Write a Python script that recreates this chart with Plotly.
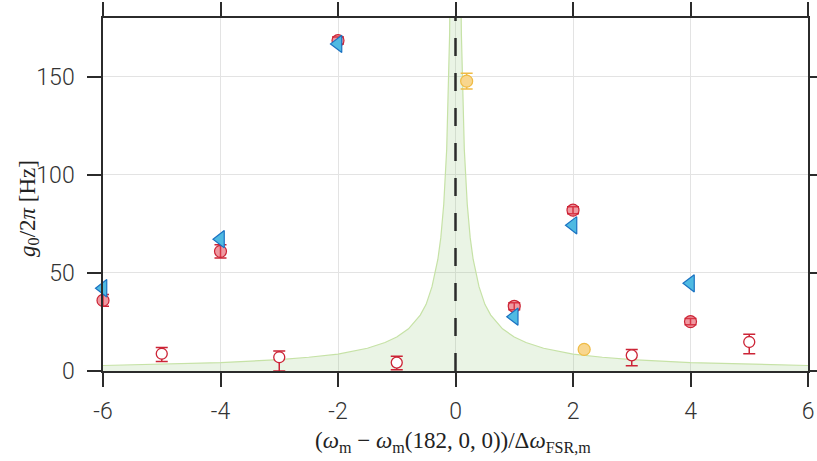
import plotly.graph_objects as go

# ---- data ----
# red filled circles (with error bars)
red_x = [-6, -4, -2, 1, 2, 4]
red_y = [36, 61, 168.5, 33, 82, 25.2]
red_err = [3, 3.4, 1.8, 1.8, 1.8, 1.6]

# red open circles (asymmetric error bars)
open_x = [-5, -3, -1, 3, 5]
open_y = [8.8, 7.0, 4.3, 8.0, 14.8]
open_err_up = [3.2, 3.2, 3.2, 3.0, 4.0]
open_err_dn = [4.0, 7.0, 3.6, 5.3, 6.0]

# blue left triangles
blue_x = [-6, -4, -2, 1, 2, 4]
blue_y = [42.2, 67.2, 166.8, 27.7, 74.3, 44.7]

# yellow circles
yel_x = [0.19, 2.19]
yel_y = [147.8, 11.0]
yel_err = [4.0, 0.0]

# green envelope curve (read values)
curve_x = [-6, -5, -4, -3, -2.5, -2, -1.5, -1.2, -1, -0.8, -0.6, -0.5, -0.4, -0.3,
           -0.25, -0.2, -0.15, -0.1, -0.07, 0,
           0.07, 0.1, 0.15, 0.2, 0.25, 0.3, 0.4, 0.5, 0.6, 0.8, 1, 1.2, 1.5, 2,
           2.5, 3, 4, 5, 6]
curve_y = [2.8, 3.4, 4.3, 5.8, 7.0, 8.6, 11.6, 14.5, 17.3, 21.5, 28.5, 34, 43, 57,
           68, 85, 113, 172, 245, 600,
           245, 172, 113, 85, 68, 57, 43, 34, 28.5, 21.5, 17.3, 14.5, 11.6, 8.6,
           7.0, 5.8, 4.3, 3.4, 2.8]

# dashed reference line position
ref_x = 0

x_range = [-6, 6]
y_range = [0, 180]
x_ticks = [-6, -4, -2, 0, 2, 4, 6]
y_ticks = [0, 50, 100, 150]

x_title = "(<i>ω</i><sub>m</sub> − <i>ω</i><sub>m</sub>(182, 0, 0))/Δ<i>ω</i><sub>FSR,m</sub>"
y_title = "<i>g</i><sub>0</sub>/2<i>π</i> [Hz]"

RED = "#cc2436"
BLUE_EDGE = "#1a72c2"
YEL_EDGE = "#efbb45"
AX = "#2b2b2b"

fig = go.Figure()

fig.add_trace(go.Scatter(
    x=curve_x, y=curve_y, mode="lines", fill="tozeroy",
    fillcolor="rgba(140,195,110,0.18)",
    line=dict(color="#c6e2a6", width=1.2),
    hoverinfo="skip", showlegend=False))

fig.add_trace(go.Scatter(
    x=[ref_x, ref_x], y=[y_range[0], y_range[1]], mode="lines",
    line=dict(color=AX, width=2.5, dash="18px,17px"),
    hoverinfo="skip", showlegend=False))

fig.add_trace(go.Scatter(
    x=open_x, y=open_y, mode="markers",
    marker=dict(symbol="circle", size=11, color="white",
                line=dict(color=RED, width=1.3)),
    error_y=dict(type="data", symmetric=False, array=open_err_up,
                 arrayminus=open_err_dn, color=RED, thickness=1.5, width=6),
    cliponaxis=False, showlegend=False))

fig.add_trace(go.Scatter(
    x=red_x, y=red_y, mode="markers",
    marker=dict(symbol="circle", size=12, color="rgba(226,70,84,0.55)",
                line=dict(color=RED, width=1.2)),
    error_y=dict(type="data", array=red_err, color=RED, thickness=1.5, width=6),
    cliponaxis=False, showlegend=False))

fig.add_trace(go.Scatter(
    x=blue_x, y=blue_y, mode="markers",
    marker=dict(symbol="triangle-left", size=15, color="#4fbae2",
                line=dict(color=BLUE_EDGE, width=1.2)),
    cliponaxis=False, showlegend=False))

fig.add_trace(go.Scatter(
    x=yel_x, y=yel_y, mode="markers",
    marker=dict(symbol="circle", size=12, color="#f8d68e",
                line=dict(color=YEL_EDGE, width=1.2)),
    error_y=dict(type="data", array=yel_err, color=YEL_EDGE, thickness=1.5, width=6),
    cliponaxis=False, showlegend=False))

axis_common = dict(
    showline=True, linecolor=AX, linewidth=1.5, mirror="allticks",
    ticks="outside", ticklen=14, tickwidth=1.5, tickcolor=AX,
    showgrid=True, gridcolor="#e3e3e3", gridwidth=1, zeroline=False,
    tickfont=dict(family="Roboto", size=23, color="#333333", weight=300),
)

fig.update_xaxes(range=x_range, tickvals=x_ticks,
                 ticktext=[str(v) for v in x_ticks],
                 ticklabelstandoff=5,
                 **axis_common)
fig.update_yaxes(range=y_range, tickvals=y_ticks,
                 ticktext=[str(v) for v in y_ticks],
                 ticklabelstandoff=8,
                 **axis_common)

fig.add_annotation(
    text=x_title, xref="paper", yref="paper", x=0.497, y=-0.2,
    xanchor="center", yanchor="middle", showarrow=False,
    font=dict(family="Liberation Serif", size=23, color="#222222"))

fig.add_annotation(
    text=y_title, xref="paper", yref="paper", x=-0.106, y=0.46,
    xanchor="center", yanchor="middle", textangle=-90, showarrow=False,
    font=dict(family="Liberation Serif", size=23, color="#222222"))

fig.update_layout(
    width=817, height=461,
    margin=dict(l=103, r=9, t=18, b=90, autoexpand=False),
    paper_bgcolor="white", plot_bgcolor="white",
    showlegend=False,
)

fig.write_html("out.html")
